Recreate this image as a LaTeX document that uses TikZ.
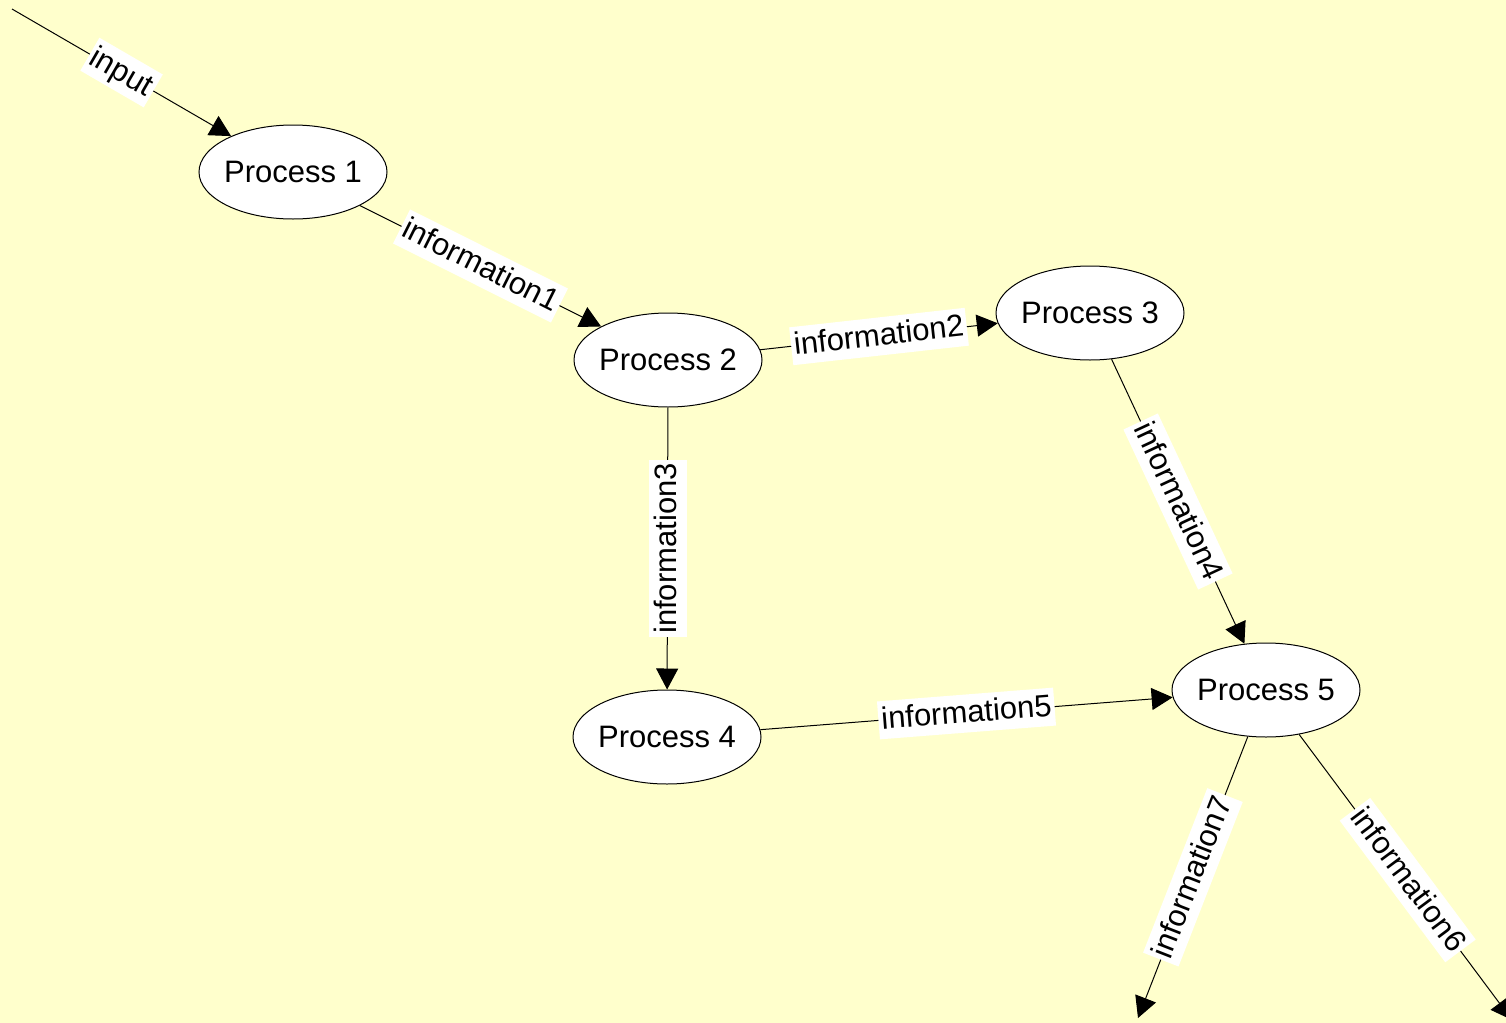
\documentclass[tikz,border=0pt]{standalone}
\usepackage{fontspec}
\setmainfont{Liberation Sans}
\usetikzlibrary{arrows.meta,shapes.geometric}
\definecolor{bgyellow}{HTML}{FFFFCC}
\begin{document}
\begin{tikzpicture}[x=0.5pt,y=-0.5pt,
  proc/.style={ellipse,draw,fill=white,line width=0.5pt,minimum width=94pt,minimum height=47pt,inner xsep=-12pt,inner ysep=0pt,font=\fontsize{15.5}{18}\selectfont},
  flow/.style={line width=0.5pt,-{Triangle[length=10.5pt,width=11pt]}},
  lbl/.style={fill=white,inner xsep=1.5pt,inner ysep=1.5pt,text height=12.5pt,text depth=3.5pt,font=\fontsize{15.5}{18}\selectfont,pos=0.5}]
\fill[bgyellow] (0,0) rectangle (1506,1023);
\useasboundingbox (0,0) rectangle (1506,1023);
\node[proc] (p1) at (293,172) {Process 1};
\node[proc] (p2) at (668,360) {Process 2};
\node[proc] (p3) at (1090,313) {Process 3};
\node[proc] (p4) at (667,737) {Process 4};
\node[proc] (p5) at (1266,690) {Process 5};
\coordinate (in) at (12,9);
\coordinate (out6) at (1512,1020);
\coordinate (out7) at (1138,1018);
\draw[flow] (in) -- node[lbl,sloped] {input} (p1);
\draw[flow] (p1) -- node[lbl,sloped] {information1} (p2);
\draw[flow] (p2) -- node[lbl,sloped] {information2} (p3);
\draw[flow] (p2) -- node[lbl,rotate=90] {information3} (p4);
\draw[flow] (p3) -- node[lbl,sloped] {information4} (p5);
\draw[flow] (p4) -- node[lbl,sloped] {information5} (p5);
\draw[flow] (p5) -- node[lbl,sloped,pos=0.51] {information6} (out6);
\draw[flow] (p5) -- node[lbl,sloped] {information7} (out7);
\end{tikzpicture}
\end{document}
